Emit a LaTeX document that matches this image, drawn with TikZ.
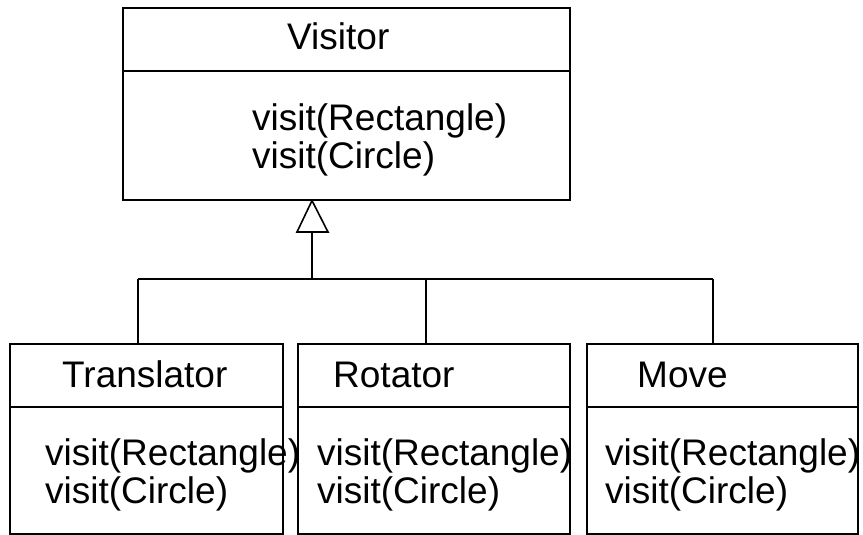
\documentclass[tikz,border=0pt]{standalone}
\usepackage{fontspec}
\setmainfont{Liberation Sans}
\begin{document}
\begin{tikzpicture}[x=1pt,y=-1pt,
  box/.style={draw,line width=1.6pt,inner sep=0pt,anchor=north west},
  lbl/.style={anchor=base west,inner sep=0pt,font=\fontsize{37}{38}\selectfont},
  ln/.style={line width=1.6pt}]
\path[use as bounding box,fill=white] (0,0) rectangle (863,535);
% boxes
\node[box,minimum width=447pt,minimum height=192pt] (V) at (122,7) {};
\node[box,minimum width=273pt,minimum height=190pt] (T) at (9,343) {};
\node[box,minimum width=272pt,minimum height=190pt] (R) at (297,343) {};
\node[box,minimum width=271pt,minimum height=190pt] (M) at (586,343) {};
% dividers
\draw[ln] (V.west |- 0,71) -- (V.east |- 0,71);
\draw[ln] (T.west |- 0,407) -- (T.east |- 0,407);
\draw[ln] (R.west |- 0,407) -- (R.east |- 0,407);
\draw[ln] (M.west |- 0,407) -- (M.east |- 0,407);
% texts
\node[lbl] (Vt) at (287,50) {Visitor};
\node[lbl] (Vm1) at (252,130) {visit(Rectangle)};
\node[lbl] (Vm2) at (252,168) {visit(Circle)};
\node[lbl] (Tt) at (62,387) {Translator};
\node[lbl] (Tm1) at (45,465) {visit(Rectangle)};
\node[lbl] (Tm2) at (45,503) {visit(Circle)};
\node[lbl] (Rt) at (333,387) {Rotator};
\node[lbl] (Rm1) at (317,465) {visit(Rectangle)};
\node[lbl] (Rm2) at (317,503) {visit(Circle)};
\node[lbl] (Mt) at (637,387) {Move};
\node[lbl] (Mm1) at (605,465) {visit(Rectangle)};
\node[lbl] (Mm2) at (605,503) {visit(Circle)};
% inheritance
\coordinate (apex) at (V.south -| 312,0);
\coordinate (bl) at (297,232);
\coordinate (br) at (328,232);
\coordinate (bm) at (312,232);
\coordinate (jm) at (312,279);
\coordinate (jl) at (T.north -| 138,0);
\coordinate (jr) at (M.north -| 713,0);
\coordinate (jc) at (R.north -| 426,0);
\draw[ln,line join=miter] (apex) -- (bl) -- (br) -- cycle;
\draw[ln] (bm) -- (jm);
\draw[ln] (jl |- jm) -- (jr |- jm);
\draw[ln] (jl |- jm) -- (jl);
\draw[ln] (jc |- jm) -- (jc);
\draw[ln] (jr |- jm) -- (jr);
\end{tikzpicture}
\end{document}
